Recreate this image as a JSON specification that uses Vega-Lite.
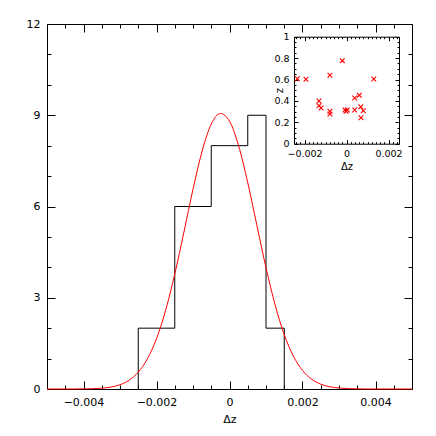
{
  "$schema": "https://vega.github.io/schema/vega-lite/v6.json",
  "width": 365,
  "height": 365,
  "autosize": {"type": "none"},
  "padding": {"left": 47, "top": 24, "right": 24, "bottom": 47},
  "background": "white",
  "config": {
    "view": {"stroke": null},
    "axis": {
      "grid": false,
      "domainColor": "black",
      "domainWidth": 1,
      "tickColor": "black",
      "tickWidth": 1,
      "labelColor": "black",
      "labelFont": "DejaVu Sans",
      "labelFontSize": 11,
      "titleFont": "DejaVu Sans",
      "titleFontWeight": "normal",
      "titleColor": "black",
      "titleFontSize": 11
    }
  },
  "datasets": {
    "hist": [
      {"dz": -0.0025, "count": 0},
      {"dz": -0.0025, "count": 2},
      {"dz": -0.0015, "count": 6},
      {"dz": -0.0005, "count": 8},
      {"dz": 0.0005, "count": 9},
      {"dz": 0.001, "count": 2},
      {"dz": 0.0015, "count": 0}
    ],
    "gauss": [
      {"dz": -0.005, "n": 0},
      {"dz": -0.00475, "n": 0.0001},
      {"dz": -0.0045, "n": 0.0005},
      {"dz": -0.00425, "n": 0.0014},
      {"dz": -0.004, "n": 0.0041},
      {"dz": -0.00375, "n": 0.011},
      {"dz": -0.0035, "n": 0.027},
      {"dz": -0.00325, "n": 0.064},
      {"dz": -0.003, "n": 0.141},
      {"dz": -0.00275, "n": 0.289},
      {"dz": -0.0025, "n": 0.553},
      {"dz": -0.00225, "n": 0.99},
      {"dz": -0.002, "n": 1.655},
      {"dz": -0.00175, "n": 2.588},
      {"dz": -0.0015, "n": 3.777},
      {"dz": -0.00125, "n": 5.152},
      {"dz": -0.001, "n": 6.568},
      {"dz": -0.00075, "n": 7.824},
      {"dz": -0.0005, "n": 8.709},
      {"dz": -0.00025, "n": 9.058},
      {"dz": 0, "n": 8.804},
      {"dz": 0.00025, "n": 7.995},
      {"dz": 0.0005, "n": 6.785},
      {"dz": 0.00075, "n": 5.381},
      {"dz": 0.001, "n": 3.987},
      {"dz": 0.00125, "n": 2.761},
      {"dz": 0.0015, "n": 1.787},
      {"dz": 0.00175, "n": 1.08},
      {"dz": 0.002, "n": 0.61},
      {"dz": 0.00225, "n": 0.322},
      {"dz": 0.0025, "n": 0.159},
      {"dz": 0.00275, "n": 0.073},
      {"dz": 0.003, "n": 0.032},
      {"dz": 0.00325, "n": 0.013},
      {"dz": 0.0035, "n": 0.005},
      {"dz": 0.00375, "n": 0.0017},
      {"dz": 0.004, "n": 0.0005},
      {"dz": 0.0045, "n": 0},
      {"dz": 0.005, "n": 0}
    ],
    "pts": [
      {"dz": -0.00234, "z": 0.607},
      {"dz": -0.00193, "z": 0.602},
      {"dz": -0.00131, "z": 0.399},
      {"dz": -0.00131, "z": 0.355},
      {"dz": -0.00121, "z": 0.334},
      {"dz": -0.00079, "z": 0.639},
      {"dz": -0.00079, "z": 0.303},
      {"dz": -0.00079, "z": 0.278},
      {"dz": -0.0002, "z": 0.776},
      {"dz": -0.00007, "z": 0.315},
      {"dz": 0.00004, "z": 0.315},
      {"dz": -0.00002, "z": 0.303},
      {"dz": 0.00039, "z": 0.315},
      {"dz": 0.00039, "z": 0.427},
      {"dz": 0.00061, "z": 0.452},
      {"dz": 0.00068, "z": 0.346},
      {"dz": 0.0008, "z": 0.308},
      {"dz": 0.00069, "z": 0.243},
      {"dz": 0.0013, "z": 0.605}
    ]
  },
  "resolve": {
    "scale": {"x": "independent", "y": "independent"},
    "axis": {"x": "independent", "y": "independent"}
  },
  "layer": [
    {
      "data": {"name": "hist"},
      "mark": {"type": "line", "interpolate": "step-after", "color": "black", "strokeWidth": 1},
      "encoding": {
        "x": {"field": "dz", "type": "quantitative", "sort": null,
          "scale": {"domain": [-0.005, 0.005], "nice": false, "zero": false},
          "axis": {"orient": "bottom", "values": [-0.004, -0.002, 0, 0.002, 0.004], "format": "~g",
            "tickSize": -8, "labelPadding": 15, "title": "Δz", "titlePadding": 6}},
        "y": {"field": "count", "type": "quantitative",
          "scale": {"domain": [0, 12], "nice": false},
          "axis": {"orient": "left", "values": [0, 3, 6, 9, 12], "tickSize": -8, "labelPadding": 15, "title": null}}
      }
    },
    {
      "data": {"name": "gauss"},
      "mark": {"type": "line", "interpolate": "monotone", "color": "#ff0000", "strokeWidth": 1},
      "encoding": {
        "x": {"field": "dz", "type": "quantitative",
          "scale": {"domain": [-0.005, 0.005], "nice": false, "zero": false},
          "axis": {"orient": "top", "values": [-0.004, -0.002, 0, 0.002, 0.004], "tickSize": -8, "labels": false, "title": null}},
        "y": {"field": "n", "type": "quantitative",
          "scale": {"domain": [0, 12], "nice": false},
          "axis": {"orient": "right", "values": [0, 3, 6, 9, 12], "tickSize": -8, "labels": false, "title": null}}
      }
    },
    {
      "data": {"name": "gauss"},
      "mark": {"type": "point", "opacity": 0},
      "encoding": {
        "x": {"field": "dz", "type": "quantitative",
          "scale": {"domain": [-0.005, 0.005], "nice": false, "zero": false},
          "axis": {"orient": "bottom", "values": [-0.0045, -0.0035, -0.003, -0.0025, -0.0015, -0.001, -0.0005, 0.0005, 0.001, 0.0015, 0.0025, 0.003, 0.0035, 0.0045],
            "tickSize": -4, "labels": false, "domain": false, "title": null}},
        "y": {"field": "n", "type": "quantitative",
          "scale": {"domain": [0, 12], "nice": false},
          "axis": {"orient": "left", "values": [1, 2, 4, 5, 7, 8, 10, 11], "tickSize": -4, "labels": false, "domain": false, "title": null}}
      }
    },
    {
      "data": {"name": "gauss"},
      "mark": {"type": "point", "opacity": 0},
      "encoding": {
        "x": {"field": "dz", "type": "quantitative",
          "scale": {"domain": [-0.005, 0.005], "nice": false, "zero": false},
          "axis": {"orient": "top", "values": [-0.0045, -0.0035, -0.003, -0.0025, -0.0015, -0.001, -0.0005, 0.0005, 0.001, 0.0015, 0.0025, 0.003, 0.0035, 0.0045],
            "tickSize": -4, "labels": false, "domain": false, "title": null}},
        "y": {"field": "n", "type": "quantitative",
          "scale": {"domain": [0, 12], "nice": false},
          "axis": {"orient": "right", "values": [1, 2, 4, 5, 7, 8, 10, 11], "tickSize": -4, "labels": false, "domain": false, "title": null}}
      }
    },
    {
      "data": {"name": "pts"},
      "mark": {"type": "point", "shape": "M-1,-1L1,1M-1,1L1,-1", "size": 22, "filled": false, "color": "#ff0000", "strokeWidth": 1.1, "opacity": 1},
      "encoding": {
        "x": {"field": "dz", "type": "quantitative",
          "scale": {"domain": [-0.0025, 0.0025], "range": [247, 352], "nice": false, "zero": false},
          "axis": {"orient": "bottom", "offset": -245.3, "values": [-0.002, 0, 0.002], "format": "~g",
            "tickSize": -4, "labelPadding": 9, "labelFontSize": 9.5, "title": "Δz", "titleFontSize": 10, "titlePadding": 3}},
        "y": {"field": "z", "type": "quantitative",
          "scale": {"domain": [0, 1], "range": [119.7, 12.7], "nice": false},
          "axis": {"orient": "left", "offset": -247, "values": [0, 0.2, 0.4, 0.6, 0.8, 1], "format": "~g",
            "tickSize": -4, "labelPadding": 9, "labelFontSize": 9.5, "title": "z", "titleFontSize": 10, "titleX": -10, "titleBaseline": "bottom"}}
      }
    },
    {
      "data": {"name": "pts"},
      "mark": {"type": "point", "opacity": 0},
      "encoding": {
        "x": {"field": "dz", "type": "quantitative",
          "scale": {"domain": [-0.0025, 0.0025], "range": [247, 352], "nice": false, "zero": false},
          "axis": {"orient": "bottom", "offset": -245.3,
            "values": [-0.0024, -0.0022, -0.0018, -0.0016, -0.0014, -0.0012, -0.001, -0.0008, -0.0006, -0.0004, -0.0002, 0.0002, 0.0004, 0.0006, 0.0008, 0.001, 0.0012, 0.0014, 0.0016, 0.0018, 0.0022, 0.0024],
            "tickSize": -2, "labels": false, "domain": false, "title": null}},
        "y": {"field": "z", "type": "quantitative",
          "scale": {"domain": [0, 1], "range": [119.7, 12.7], "nice": false},
          "axis": {"orient": "left", "offset": -247,
            "values": [0.05, 0.1, 0.15, 0.25, 0.3, 0.35, 0.45, 0.5, 0.55, 0.65, 0.7, 0.75, 0.85, 0.9, 0.95],
            "tickSize": -2, "labels": false, "domain": false, "title": null}}
      }
    },
    {
      "data": {"name": "pts"},
      "mark": {"type": "point", "opacity": 0},
      "encoding": {
        "x": {"field": "dz", "type": "quantitative",
          "scale": {"domain": [-0.0025, 0.0025], "range": [247, 352], "nice": false, "zero": false},
          "axis": {"orient": "top", "offset": -12.7, "values": [-0.002, 0, 0.002],
            "tickSize": -4, "labels": false, "title": null}},
        "y": {"field": "z", "type": "quantitative",
          "scale": {"domain": [0, 1], "range": [119.7, 12.7], "nice": false},
          "axis": {"orient": "right", "offset": -13, "values": [0, 0.2, 0.4, 0.6, 0.8, 1],
            "tickSize": -4, "labels": false, "title": null}}
      }
    },
    {
      "data": {"name": "pts"},
      "mark": {"type": "point", "opacity": 0},
      "encoding": {
        "x": {"field": "dz", "type": "quantitative",
          "scale": {"domain": [-0.0025, 0.0025], "range": [247, 352], "nice": false, "zero": false},
          "axis": {"orient": "top", "offset": -12.7,
            "values": [-0.0024, -0.0022, -0.0018, -0.0016, -0.0014, -0.0012, -0.001, -0.0008, -0.0006, -0.0004, -0.0002, 0.0002, 0.0004, 0.0006, 0.0008, 0.001, 0.0012, 0.0014, 0.0016, 0.0018, 0.0022, 0.0024],
            "tickSize": -2, "labels": false, "domain": false, "title": null}},
        "y": {"field": "z", "type": "quantitative",
          "scale": {"domain": [0, 1], "range": [119.7, 12.7], "nice": false},
          "axis": {"orient": "right", "offset": -13,
            "values": [0.05, 0.1, 0.15, 0.25, 0.3, 0.35, 0.45, 0.5, 0.55, 0.65, 0.7, 0.75, 0.85, 0.9, 0.95],
            "tickSize": -2, "labels": false, "domain": false, "title": null}}
      }
    }
  ]
}
